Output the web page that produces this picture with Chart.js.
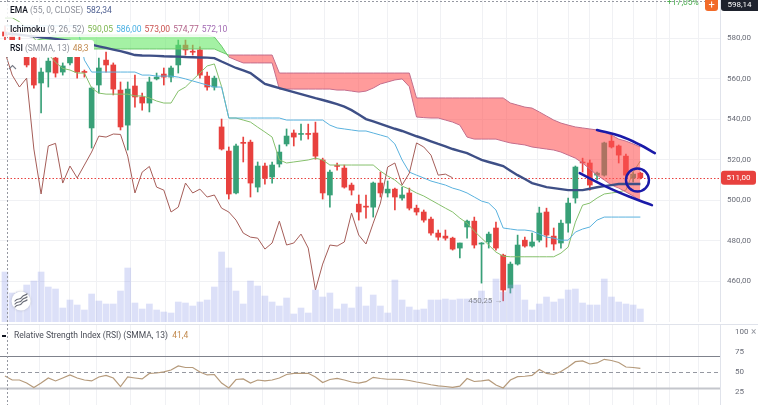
<!DOCTYPE html>
<html>
<head>
<meta charset="utf-8">
<script src="https://cdn.jsdelivr.net/npm/chart.js@4.4.1/dist/chart.umd.min.js"></script>
<style>
  html, body { margin: 0; padding: 0; background: #fff; overflow: hidden; }
  body { width: 758px; height: 405px; position: relative; font-family: Roboto, 'Noto Sans', sans-serif; }
  canvas { position: absolute; left: 0; }
  #main { top: 0; }
  #rsi { top: 324px; }
  .row { position: absolute; left: 4px; height: 15px; line-height: 15px; font-size: 8.5px; padding: 0 4px 0 6px;
         white-space: nowrap; color: #131722; background: rgba(255,255,255,0.85); }
  .row .n { font-weight: 500; }
  .row .p { color: #8d909a; margin-left: 2px; }
  .row .v { margin-left: 3px; }
  .box { background: #fff; border-radius: 3px; height: 17px; line-height: 17px; left: 2px; padding-left: 8px; padding-right: 5px; }
  .abs { position: absolute; white-space: nowrap; }
</style>
</head>
<body>
<canvas id="main" width="758" height="322"></canvas>
<canvas id="rsi" width="758" height="81"></canvas>

<div class="row" style="top:3px"><span class="n">EMA</span><span class="p">(55, 0, CLOSE)</span><span class="v" style="color:#4e5f91">582,34</span></div>
<div class="row" style="top:22px"><span class="n">Ichimoku</span><span class="p">(9, 26, 52)</span><span class="v" style="color:#7cb64e">590,05</span><span class="v" style="color:#49b0e3">586,00</span><span class="v" style="color:#c9504e">573,00</span><span class="v" style="color:#b2638a">574,77</span><span class="v" style="color:#a26bb3">572,10</span></div>
<div class="row box" style="top:40px"><span class="n">RSI</span><span class="p">(SMMA, 13)</span><span class="v" style="color:#c28a4e">48,3</span></div>

<div class="abs" style="left:667px;top:-3px;font-size:8.5px;line-height:10px;color:#4caf50">+17,05%</div>
<div class="abs" style="left:705px;top:0;width:13px;height:11px;background:#f26b2a;border-radius:0 0 3px 3px;color:#fff;font-size:11px;line-height:10px;text-align:center">+</div>
<div class="abs" style="left:721px;top:0;width:37px;height:11px;background:#1e222d;border-radius:0 0 0 3px;color:#fff;font-size:8px;line-height:10px;text-align:center">598,14</div>

<div class="abs" style="left:2px;top:335px;width:4px;height:2px;background:#131722"></div>
<div class="abs" style="left:14px;top:330px;font-size:8.5px;line-height:11px;color:#4a4d57">Relative Strength Index (RSI) (SMMA, 13) <span style="color:#c28a4e;margin-left:2px">41,4</span></div>
<div class="abs" style="left:751px;top:326px;font-size:10px;color:#9598a1">×</div>

<script>
// ---- data ----
const OPEN = [583, 581, 578, 570.6, 570.1, 557.8, 563.2, 570.1, 563.2, 567.7,
  571.6, 563.4, 535.6, 556.8, 569.1, 566.7, 554.3, 537.0, 556.3, 550.9,
  547.9, 559.8, 562.2, 560.7, 566.7, 576.5, 573.5, 574.1, 561.2, 555.8,
  536.1, 524.2, 503.5, 528.2, 528.6, 506.4, 516.8, 511.4, 517.8, 527.7,
  533.1, 532.4, 532.6, 533.1, 519.8, 502.5, 516.8, 515.8, 507.4, 498.0,
  496.7, 496.5, 508.4, 503.5, 505.4, 501.0, 503.5, 496.0, 494.1, 490.6,
  483.7, 482.2, 481.2, 476.3, 486.7, 489.6, 478.3, 479.3, 486.2, 472.8,
  456.6, 468.4, 480.2, 477.3, 480.2, 494.1, 482.2, 478.8, 488.6, 501.0,
  518.5, 518.3, 512.3, 512.3, 529.1, 526.7, 521.7, 510.9, 513.3];
const HIGH = [586, 584, 581, 572, 571, 565.2, 570.1, 571.1, 567.7, 572.6,
  574.1, 564.2, 555.8, 570.1, 573.1, 567.7, 558.3, 558.3, 561.7, 552.8,
  560.7, 562.7, 565.2, 566.2, 579.0, 579.0, 576.5, 575.6, 563.2, 561.2,
  540.0, 526.2, 527.7, 531.1, 529.6, 518.8, 518.3, 518.8, 527.2, 535.1,
  534.6, 537.5, 537.5, 538.5, 520.7, 514.8, 518.3, 517.3, 508.4, 502.5,
  502.5, 508.9, 513.8, 509.4, 505.9, 506.4, 505.9, 497.5, 495.1, 491.6,
  485.2, 485.2, 481.7, 478.8, 490.1, 491.6, 479.0, 484.2, 489.1, 473.3,
  469.4, 482.7, 481.7, 483.7, 496.5, 496.0, 486.2, 490.1, 501.0, 516.8,
  520.7, 519.8, 513.8, 528.6, 532.1, 527.2, 522.7, 513.8, 513.8];
const LOW = [579, 576, 573, 565.7, 555.3, 543.0, 555.8, 560.7, 561.7, 566.7,
  560.2, 560.7, 525.7, 552.8, 563.2, 551.9, 534.6, 524.7, 545.9, 544.4,
  543.5, 559.3, 556.8, 558.3, 562.7, 571.6, 571.6, 560.2, 554.3, 554.3,
  524.7, 500.5, 503.0, 518.8, 501.5, 504.0, 507.9, 508.4, 516.3, 526.7,
  526.7, 529.6, 530.1, 520.2, 500.5, 496.5, 514.8, 505.9, 502.5, 490.1,
  491.1, 491.6, 501.5, 501.5, 495.1, 500.0, 495.1, 492.6, 489.1, 482.7,
  480.2, 480.2, 475.3, 471.4, 481.2, 476.3, 459.0, 476.3, 475.3, 450.25,
  454.1, 467.9, 476.8, 476.8, 479.3, 476.8, 475.3, 476.3, 484.2, 498.5,
  513.8, 504.9, 509.9, 511.8, 525.7, 518.3, 510.9, 508.9, 510.4];
const CLOSE = [581, 578, 575.5, 566.7, 556.8, 563.2, 568.6, 562.7, 566.2, 570.6,
  563.2, 563.0, 555.3, 565.2, 566.7, 554.8, 536.1, 554.8, 550.9, 547.9,
  558.3, 560.7, 560.7, 565.2, 576.5, 574.1, 573.0, 561.7, 555.8, 560.2,
  525.2, 503.0, 526.7, 528.0, 508.4, 516.8, 510.9, 517.3, 523.7, 531.6,
  531.1, 532.6, 532.4, 521.7, 503.5, 513.8, 516.6, 506.4, 504.9, 494.1,
  496.5, 508.4, 503.5, 505.4, 501.5, 502.5, 496.0, 494.1, 490.1, 483.7,
  481.7, 481.2, 475.8, 478.8, 489.6, 477.8, 478.8, 483.2, 476.3, 455.6,
  468.4, 477.8, 477.3, 479.3, 493.6, 482.7, 478.3, 488.6, 498.5, 516.3,
  518.3, 507.4, 513.3, 528.2, 526.2, 522.2, 512.3, 512.8, 511.0];
const VOLUME = [500, 290, 300, 370, 410, 500, 350, 330, 140, 220,
  170, 120, 280, 210, 180, 180, 310, 540, 190, 130,
  180, 120, 100, 90, 200, 190, 160, 200, 220, 350,
  700, 540, 310, 180, 410, 360, 260, 200, 160, 240,
  80, 140, 90, 320, 250, 290, 130, 180, 140, 350,
  160, 270, 160, 90, 420, 220, 150, 120, 130, 220,
  220, 230, 220, 230, 230, 220, 310, 220, 430, 300,
  370, 370, 220, 120, 180, 250, 200, 230, 320, 330,
  190, 170, 170, 430, 250, 200, 180, 170, 130];
const EMA55 = [582.34, 582.0, 581.6, 581.2, 580.8, 580.4, 580.0, 579.6, 579.1, 578.6,
  578.0, 577.5, 576.7, 575.9, 575.1, 574.3, 573.5, 572.6, 571.6, 571.4,
  571.3, 571.2, 571.0, 570.9, 570.8, 570.6, 570.5, 570.4, 570.3, 570.1,
  568.4, 566.8, 565.2, 564.0, 562.7, 560.0, 557.3, 556.3, 555.3, 554.3,
  553.3, 552.3, 551.3, 550.3, 549.4, 548.4, 547.4, 546.1, 544.4, 542.2,
  540.0, 538.8, 537.6, 536.4, 535.2, 534.1, 532.8, 531.5, 530.3, 529.0,
  527.7, 526.5, 525.2, 524.2, 523.2, 521.5, 519.8, 518.8, 517.8, 516.8,
  514.5, 512.3, 510.4, 508.4, 507.4, 506.4, 505.9, 505.4, 504.9, 504.9,
  504.9, 505.6, 506.3, 506.9, 507.4, 507.9, 507.9, 507.9, 507.9];
const TENKAN = [590.05, 590.05, 588, 585, 580, 576, 572, 568, 565, 564.2,
  562.7, 562.7, 555.3, 552.8, 552.3, 552.3, 552.3, 552.3, 551.4, 551.4,
  550.4, 548.9, 547.9, 547.9, 553.8, 555.8, 559.3, 562.7, 566.2, 567.2,
  556.0, 540.5, 540.5, 539.5, 538.5, 536.0, 533.6, 531.1, 519.8, 518.3,
  518.8, 519.3, 519.8, 520.7, 519.8, 517.3, 517.3, 517.3, 517.3, 517.3,
  517.3, 517.3, 514.3, 511.9, 509.9, 506.9, 505.4, 503.5, 502.0, 500.0,
  498.0, 496.0, 494.1, 491.1, 488.6, 484.7, 481.2, 477.8, 474.3, 472.3,
  472.0, 472.0, 472.0, 472.0, 472.0, 472.0, 472.0, 473.8, 476.8, 489.1,
  497.5, 498.5, 501.0, 503.0, 503.5, 504.0, 504.9, 513.8, 519.3];
const KIJUN = [586, 586, 586, 586, 586, 586, 586, 586, 586, 586,
  586, 569.1, 563.2, 563.2, 563.2, 563.2, 563.2, 563.2, 563.2, 561.7,
  561.7, 561.2, 561.2, 561.2, 560.7, 559.8, 558.8, 557.8, 556.8, 555.8,
  555.8, 540.5, 540.5, 540.5, 540.5, 540.5, 540.5, 540.5, 540.5, 539.5,
  539.5, 539.5, 539.5, 539.5, 539.5, 537.0, 535.6, 535.1, 534.6, 534.1,
  534.1, 533.1, 532.1, 531.1, 527.7, 519.8, 513.8, 512.3, 510.9, 509.4,
  508.4, 507.4, 505.9, 504.9, 503.5, 501.5, 499.5, 498.5, 495.1, 486.2,
  485.7, 485.2, 485.2, 484.7, 483.2, 481.7, 481.2, 480.2, 480.2, 484.2,
  485.7, 486.7, 490.1, 491.6, 491.6, 491.6, 491.6, 491.6, 491.6];
const SPAN_A = [574.77, 575.6, 576.5, 577.5, 578.5, 579.5, 580.5, 581.5, 581.5, 581.5,
  581.5, 581.5, 581.5, 581.5, 581.5, 581.5, 581.5, 581.5, 581.5, 581.5,
  581.5, 581.5, 581.5, 581.5, 581.5, 581.5, 581.5, 581.5, 581.5, 580.5,
  576.0, 570.6, 569.1, 567.7, 567.7, 567.7, 567.7, 567.7, 554.8, 554.8,
  554.8, 554.8, 554.8, 554.8, 554.8, 554.8, 554.3, 554.3, 553.8, 553.3,
  553.8, 555.3, 557.3, 558.3, 559.3, 559.8, 556.0, 541.0, 540.7, 540.5,
  540.5, 539.5, 538.5, 537.0, 531.1, 530.1, 530.1, 530.1, 530.1, 529.1,
  528.2, 527.7, 527.2, 526.2, 525.7, 525.2, 524.7, 523.7, 522.2, 520.7,
  518.3, 515.3, 512.3, 509.9, 507.4, 505.9, 504.0, 502.0, 499.5];
const SPAN_B = [572.1, 572.1, 572.1, 572.1, 572.1, 572.1, 574.6, 574.6, 574.6, 574.6,
  574.6, 574.6, 574.6, 574.6, 574.6, 574.6, 574.6, 574.6, 574.6, 574.6,
  574.6, 574.6, 574.6, 574.6, 574.6, 574.6, 574.6, 574.6, 574.6, 574.6,
  573.0, 571.6, 571.6, 571.6, 571.6, 571.6, 571.6, 571.6, 562.7, 562.7,
  562.7, 562.7, 562.7, 562.7, 562.7, 562.7, 562.7, 562.7, 562.7, 562.7,
  562.7, 562.7, 562.7, 562.7, 562.7, 562.7, 562.7, 550.4, 550.4, 550.4,
  550.4, 550.4, 550.4, 550.4, 550.4, 550.4, 550.4, 550.4, 550.4, 550.4,
  547.9, 546.9, 545.9, 545.4, 543.5, 541.5, 539.5, 538.0, 537.0, 536.1,
  535.6, 535.1, 534.6, 533.6, 532.1, 530.1, 529.1, 527.7, 526.2];
const CHIKOU = CLOSE.slice(26); // lagging span: close drawn 26 bars back
const RSI = [44.7, 39.7, 39.7, 35.9, 30.3, 35.9, 42.2, 38.5, 42.2, 46.0,
  42.2, 39.7, 38.5, 43.5, 45.4, 42.2, 31.5, 43.5, 42.2, 41.0,
  47.9, 48.5, 49.8, 52.3, 57.3, 55.4, 55.4, 49.8, 46.0, 46.6,
  35.9, 29.7, 40.3, 41.0, 35.9, 39.7, 38.5, 39.7, 42.2, 46.6,
  47.9, 47.9, 48.1, 43.5, 36.6, 40.3, 41.6, 39.7, 37.2, 35.9,
  37.6, 43.1, 41.6, 40.6, 40.6, 40.3, 39.1, 37.2, 35.6, 33.7,
  32.2, 31.5, 30.5, 31.9, 41.6, 37.8, 38.5, 39.7, 33.4, 29.7,
  39.7, 43.9, 44.4, 45.4, 52.9, 47.9, 46.6, 50.4, 56.0, 62.7,
  63.6, 59.8, 61.1, 65.7, 64.2, 61.7, 56.0, 55.4, 54.4];

// hand-drawn marks on the chart (bar index, price)
const MARK_UPPER = [[82, 534.6], [85.2, 531.6], [88, 527.2], [90, 523.2]];
const MARK_LOWER = [[79.6, 513.3], [83.4, 506.4], [86.6, 501.5], [89.6, 497.5]];
const MARK_CIRCLE = [87.6, 509.9];

const PRICE_TICKS = [460, 480, 500, 520, 540, 560, 580];
const RSI_TICKS = [25, 50, 75, 100];
const RSI_LEVELS = [30, 50, 70];
const GRID_X = [4.85, 9, 12.7, 17.4, 22.2, 26.9, 30.9, 35.6, 39.6, 44.3, 49, 53, 57.2, 60.3,
  66.2, 69.5, 73.8, 78, 81, 84.1, 87, 90.2, 92.1, 96.1];
const CROSS_IDX = 0.28;
const CROSS_PRICE = 598.14;
const LAST_PRICE = CLOSE[CLOSE.length - 1];

const X_MIN = -0.69, X_MAX = 99.03;
const PRICE_MIN = 439.8, PRICE_MAX = 598.77;
const RSI_MIN = 8.3, RSI_MAX = 110;

const FONT = "Roboto, 'Noto Sans', sans-serif";
const UP = '#38a077', DOWN = '#e8413e';
Chart.defaults.font.family = FONT;

const fmt = v => v.toFixed(2).replace('.', ',');
const pts = arr => arr.map((v, i) => ({ x: i, y: v }));
const candleColors = OPEN.map((o, i) => CLOSE[i] >= o ? UP : DOWN);
const lowIdx = LOW.indexOf(Math.min(...LOW));

// the right axis keeps a fixed width and adds no padding above/below the plot
const fixAxis = s => { s.width = 38; s.paddingTop = 0; s.paddingBottom = 0; };

const xScale = {
  type: 'linear', min: X_MIN, max: X_MAX, bounds: 'data', offset: false,
  afterBuildTicks: s => { s.ticks = GRID_X.map(v => ({ value: v })); },
  afterFit: s => { s.height = 0; s.paddingLeft = 0; s.paddingRight = 0; },
  ticks: { display: false },
  grid: { color: '#f0f1f4', drawTicks: false, offset: false },
  border: { display: false }
};

const overlay = {
  id: 'overlay',
  beforeDatasetsDraw(chart) {
    const { ctx, chartArea: a, scales: { y } } = chart;
    const ly = Math.round(y.getPixelForValue(LAST_PRICE)) + 0.5;
    ctx.save();
    ctx.strokeStyle = '#e8413e';
    ctx.setLineDash([1.5, 2]);
    ctx.beginPath(); ctx.moveTo(a.left, ly); ctx.lineTo(a.right, ly); ctx.stroke();
    ctx.restore();
  },
  afterDraw(chart) {
    const { ctx, chartArea: a, scales: { x, y } } = chart;
    ctx.save();
    // crosshair
    ctx.strokeStyle = '#9598a1';
    ctx.lineWidth = 1;
    ctx.setLineDash([2, 2]);
    const cx = Math.round(x.getPixelForValue(CROSS_IDX)) + 0.5;
    ctx.beginPath(); ctx.moveTo(cx, a.top); ctx.lineTo(cx, a.bottom); ctx.stroke();
    const cy = Math.round(y.getPixelForValue(CROSS_PRICE)) + 0.5;
    ctx.beginPath(); ctx.moveTo(a.left, cy); ctx.lineTo(a.right, cy); ctx.stroke();
    ctx.setLineDash([]);

    // last price tag
    const ly = y.getPixelForValue(LAST_PRICE);
    ctx.fillStyle = '#e8413e';
    ctx.beginPath(); ctx.roundRect(a.right + 1, ly - 7, 35, 14, 3); ctx.fill();
    ctx.fillStyle = '#fff';
    ctx.font = '8px ' + FONT;
    ctx.textAlign = 'center'; ctx.textBaseline = 'middle';
    ctx.fillText(fmt(LAST_PRICE), a.right + 18.5, ly);

    // lowest low label
    ctx.fillStyle = '#868993';
    ctx.textAlign = 'right';
    ctx.fillText(fmt(LOW[lowIdx]) + ' \u2192', x.getPixelForValue(lowIdx) - 1, y.getPixelForValue(LOW[lowIdx]));

    // collapse chevron
    ctx.strokeStyle = '#787b86'; ctx.lineWidth = 1.1;
    ctx.beginPath(); ctx.moveTo(9, 69); ctx.lineTo(12.5, 65.5); ctx.lineTo(16, 69); ctx.stroke();

    // volume icon
    const ix = 21, iy = 301;
    ctx.fillStyle = '#fff';
    ctx.shadowColor = 'rgba(0,0,0,0.18)'; ctx.shadowBlur = 3;
    ctx.beginPath(); ctx.arc(ix, iy, 9.5, 0, Math.PI * 2); ctx.fill();
    ctx.shadowColor = 'transparent';
    ctx.strokeStyle = '#6a6d78'; ctx.lineWidth = 1.2; ctx.lineCap = 'round';
    for (let k = -1; k <= 1; k++) {
      const oy = k * 3;
      ctx.beginPath();
      ctx.moveTo(ix - 6, iy + 3 + oy);
      ctx.bezierCurveTo(ix - 3, iy - 1 + oy, ix - 1, iy + 3 + oy, ix + 1, iy - 1 + oy);
      ctx.bezierCurveTo(ix + 3, iy - 4 + oy, ix + 4, iy - 2 + oy, ix + 6, iy - 4 + oy);
      ctx.stroke();
    }
    ctx.restore();
  }
};

const edgeColor = c => SPAN_A[c.p0DataIndex] >= SPAN_B[c.p0DataIndex] ? '#6cc96c' : '#c46d8c';

new Chart(document.getElementById('main'), {
  type: 'bar',
  data: {
    datasets: [
      { type: 'bar', label: 'wick', data: LOW.map((l, i) => ({ x: i, y: [l, HIGH[i]] })),
        backgroundColor: candleColors, barThickness: 1, grouped: false, order: 7 },
      { type: 'bar', label: 'body', data: OPEN.map((o, i) => ({ x: i, y: [o, CLOSE[i]] })),
        backgroundColor: candleColors, barThickness: 5, minBarLength: 1, grouped: false, order: 6 },
      { type: 'line', label: 'chikou', data: pts(CHIKOU), borderColor: '#a55d58', borderWidth: 1,
        pointRadius: 0, order: 5 },
      { type: 'line', label: 'kijun', data: pts(KIJUN), borderColor: '#5ab2de', borderWidth: 1,
        pointRadius: 0, order: 5 },
      { type: 'line', label: 'tenkan', data: pts(TENKAN), borderColor: '#86c06c', borderWidth: 1,
        pointRadius: 0, order: 5 },
      { type: 'line', label: 'spanB', data: pts(SPAN_B), borderWidth: 1, pointRadius: 0,
        segment: { borderColor: edgeColor }, order: 4 },
      { type: 'line', label: 'spanA', data: pts(SPAN_A), borderWidth: 1, pointRadius: 0,
        segment: { borderColor: edgeColor },
        fill: { target: 5, above: 'rgba(104,232,104,0.6)', below: 'rgba(255,82,82,0.58)' }, order: 4 },
      { type: 'line', label: 'ema', data: pts(EMA55), borderColor: '#3e4f86', borderWidth: 2.4,
        pointRadius: 0, order: 3 },
      { type: 'bar', label: 'volume', data: pts(VOLUME), yAxisID: 'yv',
        backgroundColor: 'rgba(150,162,235,0.33)', barThickness: 6, grouped: false, order: 2 },
      { type: 'line', label: 'markUpper', data: MARK_UPPER.map(([x, y]) => ({ x, y })),
        borderColor: '#1a1aa8', borderWidth: 2.6, tension: 0.4, pointRadius: 0, borderCapStyle: 'round', order: 0 },
      { type: 'line', label: 'markLower', data: MARK_LOWER.map(([x, y]) => ({ x, y })),
        borderColor: '#1a1aa8', borderWidth: 2.6, tension: 0.4, pointRadius: 0, borderCapStyle: 'round', order: 0 },
      { type: 'line', label: 'markCircle', data: [{ x: MARK_CIRCLE[0], y: MARK_CIRCLE[1] }], showLine: false,
        pointRadius: 11.5, pointBorderWidth: 2.4, pointBorderColor: '#1a1aa8',
        pointBackgroundColor: 'rgba(0,0,0,0)', order: 0 }
    ]
  },
  options: {
    responsive: false, animation: false, events: [],
    layout: { padding: 0, autoPadding: false },
    plugins: { legend: { display: false }, tooltip: { enabled: false } },
    scales: {
      x: xScale,
      y: {
        type: 'linear', position: 'right', min: PRICE_MIN, max: PRICE_MAX, bounds: 'data',
        afterBuildTicks: s => { s.ticks = PRICE_TICKS.map(v => ({ value: v })); },
        afterFit: fixAxis,
        ticks: { padding: 7, color: '#6a6d78', font: { size: 8 }, callback: v => fmt(v) },
        grid: { color: '#f0f1f4', drawTicks: false },
        border: { color: '#e0e3eb' }
      },
      yv: { type: 'linear', axis: 'y', display: false, min: 0, max: 3220 }
    }
  },
  plugins: [overlay]
});

const rsiOverlay = {
  id: 'rsiOverlay',
  beforeDatasetsDraw(chart) {
    const { ctx, chartArea: a, scales: { y } } = chart;
    ctx.save();
    RSI_LEVELS.forEach(lv => {
      const py = Math.round(y.getPixelForValue(lv)) + 0.5;
      if (lv === 50) { ctx.setLineDash([4, 3]); ctx.strokeStyle = '#9598a1'; ctx.lineWidth = 1; }
      else if (lv > 50) { ctx.setLineDash([]); ctx.strokeStyle = '#7f828c'; ctx.lineWidth = 1; }
      else { ctx.setLineDash([]); ctx.strokeStyle = '#c4c6cc'; ctx.lineWidth = 2; }
      ctx.beginPath(); ctx.moveTo(a.left, py); ctx.lineTo(a.right, py); ctx.stroke();
    });
    ctx.restore();
  },
  afterDraw(chart) {
    const { ctx, chartArea: a, scales: { x } } = chart;
    ctx.save();
    ctx.strokeStyle = '#e0e3eb'; ctx.lineWidth = 1;
    ctx.beginPath(); ctx.moveTo(0, 0.5); ctx.lineTo(chart.width, 0.5); ctx.stroke();
    ctx.strokeStyle = '#9598a1'; ctx.setLineDash([2, 2]);
    const cx = Math.round(x.getPixelForValue(CROSS_IDX)) + 0.5;
    ctx.beginPath(); ctx.moveTo(cx, a.top); ctx.lineTo(cx, a.bottom); ctx.stroke();
    ctx.restore();
  }
};

new Chart(document.getElementById('rsi'), {
  type: 'line',
  data: {
    datasets: [{ label: 'RSI', data: pts(RSI), borderColor: '#b59a7b', borderWidth: 1.2, pointRadius: 0 }]
  },
  options: {
    responsive: false, animation: false, events: [],
    layout: { padding: 0, autoPadding: false },
    plugins: { legend: { display: false }, tooltip: { enabled: false } },
    scales: {
      x: xScale,
      y: {
        type: 'linear', position: 'right', min: RSI_MIN, max: RSI_MAX, bounds: 'data',
        afterBuildTicks: s => { s.ticks = RSI_TICKS.map(v => ({ value: v })); },
        afterFit: fixAxis,
        ticks: { padding: 7, color: '#6a6d78', font: { size: 8 }, callback: v => String(v) },
        grid: { display: false },
        border: { color: '#e0e3eb' }
      }
    }
  },
  plugins: [rsiOverlay]
});
</script>
</body>
</html>
